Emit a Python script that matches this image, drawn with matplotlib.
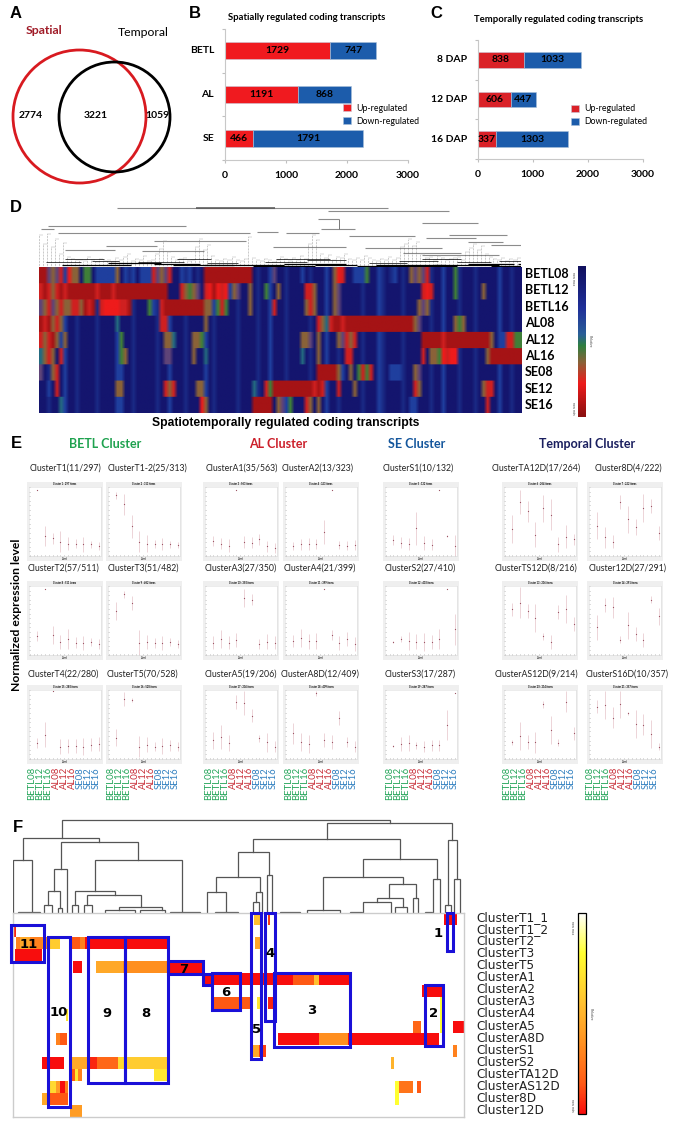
import numpy as np
import matplotlib
matplotlib.use("Agg")
import matplotlib.pyplot as plt
from matplotlib.colors import LinearSegmentedColormap, to_rgb
from matplotlib.patches import Ellipse, Rectangle

W, H = 675, 1123
plt.rcParams['font.family'] = ['Lato', 'DejaVu Sans']

# panel A
venn_labels = ["Spatial", "Temporal"]
venn_counts = [2774, 3221, 1059]

# panel B / C
b_cats = ["BETL", "AL", "SE"]
b_up = [1729, 1191, 466]
b_down = [747, 868, 1791]
c_cats = ["8 DAP", "12 DAP", "16 DAP"]
c_up = [838, 606, 337]
c_down = [1033, 447, 1303]
bar_ticks = [0, 1000, 2000, 3000]

# panel D, colour codes per column, 120 columns
d_rows = ["BETL08", "BETL12", "BETL16", "AL08", "AL12", "AL16", "SE08", "SE12", "SE16"]
d_base = ("nnvnnnbnnvnnnnvnnnnbnnnvnnnnnvnnbnnnvnnnnbnvnnnnnvnnnn"
          "vnnbnnnvnnnnnvnnnbnnvnnnnnvnnnbvnnnnvnnnnnnvnnbnnnvnnnvnnnnnbnnvnnnn")
d_segments = [
    [(0, "ddmomrbRoonggn"), (14, "bbbbbonbvbnbbbrmomrnn"), (35, "bvbnvn"), (41, "d" * 12),
     (58, "m"), (65, "b"), (73, "oRr"), (78, "bbb"), (81, "g"), (87, "vb"), (92, "omom"), (96, "r"), (103, "g")],
    [(0, "rdrordr"), (7, "d" * 25), (14, "r"), (18, "r"), (32, "nn"), (35, "rogom"), (40, "n"), (41, "rRdRrR"),
     (47, "bn"), (48, "om"), (52, "o"), (56, "g"), (59, "o"), (66, "rro"), (73, "om"), (95, "rRr"), (103, "g"), (110, "o")],
    [(0, "mormoro"), (7, "orrodr"), (13, "d"), (15, "rRRRRrrd"), (27, "g"), (28, "bvn"), (30, "rdr"),
     (32, "d" * 9), (41, "oo"), (43, "bgrg"), (47, "n"), (52, "o"), (58, "r"), (66, "oro"), (73, "om"), (94, "omo")],
    [(0, "drd"), (3, "oro"), (19, "t"), (30, "rr"), (41, "o"), (69, "roo"), (71, "t"), (72, "r"),
     (73, "d" * 20), (75, "r"), (93, "om"), (103, "ogo")],
    [(0, "rordo"), (5, "bo"), (20, "g"), (31, "oot"), (38, "oog"), (65, "oom"), (69, "o"), (74, "om"),
     (76, "ror"), (95, "d" * 17), (100, "r"), (112, "o"), (115, "bb"), (116, "rrg"), (119, "g")],
    [(0, "toro"), (4, "nr"), (20, "go"), (31, "mm"), (38, "o"), (41, "t"), (65, "t"), (69, "o"),
     (76, "rr"), (95, "r"), (97, "oog"), (100, "RrRR"), (111, "o"), (112, "d" * 8)],
    [(0, "m"), (3, "o"), (4, "r"), (19, "bb"), (69, "d" * 5), (74, "ob"), (77, "o"), (79, "grgr"),
     (87, "bbb"), (93, "om")],
    [(2, "b"), (4, "r"), (19, "oo"), (31, "ror"), (39, "oo"), (53, "t"), (56, "rg"), (58, "d" * 10),
     (68, "rdr"), (74, "r"), (78, "o"), (93, "ro"), (110, "orr")],
    [(5, "t"), (20, "b"), (40, "Ro"), (53, "d" * 5), (59, "omb"), (62, "g"), (66, "ro"), (69, "o"),
     (92, "bb"), (111, "r")],
]
d_colors = {"n": "#14156e", "v": "#1a2a85", "b": "#1f3f9e", "t": "#246a80", "g": "#3f7f38",
            "m": "#5f4478", "o": "#8a6238", "d": "#a51315", "r": "#cf2020", "R": "#ee1b1b"}

# dendrogram of panel D, x in leaf units, spans (left, right, height)
d_tree_spans = [(205, 910, 177), (410, 615, 177), (755, 1070, 169), (728, 782, 144), (735, 825, 115),
                (1000, 1145, 132), (25, 385, 124), (7, 40, 115), (50, 550, 102), (1070, 1220, 97),
                (570, 625, 104), (645, 730, 102), (810, 980, 92), (1010, 1140, 87), (300, 540, 79),
                (1120, 1210, 74), (175, 310, 62), (70, 200, 52), (1180, 1257, 67), (610, 800, 60),
                (850, 1050, 58), (270, 430, 48), (950, 1100, 42), (1000, 1200, 35)]
d_tree_stems = [(782, 144, 115)]
d_leaf_heights = [95, 70, 98, 60, 85, 40, 72, 30, 25, 20, 22, 18, 30, 20, 16, 25, 18, 22, 15, 28,
                  20, 30, 40, 18, 25, 20, 32, 18, 22, 38, 55, 78, 45, 30, 20, 24, 28, 18, 22, 60,
                  85, 50, 66, 32, 20, 18, 25, 22, 30, 20, 18, 24, 90, 28, 20, 18, 25, 20, 16, 22,
                  30, 24, 18, 26, 20, 32, 24, 70, 96, 80, 40, 28, 35, 22, 30, 26, 38, 24, 20, 28,
                  22, 34, 26, 20, 18, 24, 22, 30, 20, 26, 60, 70, 85, 62, 74, 40, 26, 30, 22, 34,
                  26, 20, 24, 28, 30, 22, 46, 56, 68, 50, 62, 38, 30, 24, 20, 26, 18, 24, 22, 28, 20]
d_scrub = [(60, 240, 6), (180, 320, 11), (300, 420, 8), (350, 510, 5), (430, 640, 7), (560, 720, 4),
           (640, 800, 9), (720, 830, 6), (830, 990, 4), (880, 1060, 7), (980, 1090, 3), (1030, 1200, 6),
           (1120, 1240, 10), (1180, 1340, 4), (1250, 1357, 8), (20, 110, 14), (140, 210, 19), (260, 380, 16),
           (440, 520, 13), (590, 700, 15), (700, 800, 20), (860, 960, 12), (940, 1040, 17), (1090, 1180, 15),
           (1200, 1300, 18), (70, 170, 24), (360, 450, 23), (620, 760, 25), (1000, 1100, 24)]

# panel E
e_groups = ["BETL Cluster", "AL Cluster", "SE Cluster", "Temporal Cluster"]
e_group_colors = ["#1fa24f", "#cc1f2a", "#14569c", "#1a1f5f"]
e_samples = ["BETL08", "BETL12", "BETL16", "AL08", "AL12", "AL16", "SE08", "SE12", "SE16"]
e_sample_colors = ["#25a55a"] * 3 + ["#c8303a"] * 3 + ["#2f7fbf"] * 3
e_titles = [
    ["ClusterT1(11/297)", "ClusterT1-2(25/313)", "ClusterA1(35/563)", "ClusterA2(13/323)", "ClusterS1(10/132)",
     "ClusterTA12D(17/264)", "Cluster8D(4/222)"],
    ["ClusterT2(57/511)", "ClusterT3(51/482)", "ClusterA3(27/350)", "ClusterA4(21/399)", "ClusterS2(27/410)",
     "ClusterTS12D(8/216)", "Cluster12D(27/291)"],
    ["ClusterT4(22/280)", "ClusterT5(70/528)", "ClusterA5(19/206)", "ClusterA8D(12/409)", "ClusterS3(17/287)",
     "ClusterAS12D(9/214)", "ClusterS16D(10/357)"],
]
e_means = [
    [[.96, .29, .26, .21, .18, .18, .17, .17, .15], [.88, .75, .43, .21, .18, .17, .17, .17, .16],
     [.22, .18, .15, .95, .20, .19, .24, .14, .12], [.15, .17, .17, .17, .35, .95, .16, .15, .16],
     [.23, .19, .17, .40, .19, .16, .95, .29, .15], [.39, .78, .65, .31, .69, .60, .17, .28, .24],
     [.44, .27, .21, .78, .53, .42, .70, .72, .33]],
    [[.28, .96, .29, .19, .23, .18, .17, .19, .155], [.64, .88, .75, .18, .19, .17, .17, .19, .16],
     [.18, .23, .18, .22, .83, .80, .155, .19, .18], [.20, .25, .20, .20, .96, .29, .17, .23, .155],
     [.19, .23, .20, .19, .19, .19, .23, .96, .37], [.66, .76, .64, .54, .27, .19, .62, .67, .45],
     [.40, .73, .69, .22, .43, .31, .22, .80, .56]],
    [[.235, .35, .98, .18, .19, .19, .18, .21, .22], [.31, .87, .86, .18, .21, .18, .19, .20, .18],
     [.27, .32, .235, .83, .81, .63, .30, .24, .18], [.37, .25, .22, .95, .27, .25, .60, .25, .18],
     [.19, .22, .23, .20, .18, .20, .20, .49, .96], [.24, .33, .25, .24, .79, .42, .235, .83, .37],
     [.76, .78, .60, .79, .66, .51, .50, .36, .18]],
]
e_spreads = [
    [[0, .14, .08, .15, .09, .06, .11, .05, .06], [.05, .15, .17, .15, .12, .06, .09, .05, .05],
     [.07, .08, .09, 0, .09, .08, .08, .08, .07], [.06, .08, .09, .07, .17, 0, .06, .07, .07],
     [.07, .08, .09, .24, .10, .08, 0, .02, .15], [.20, .17, .15, .18, .20, .22, .11, .17, .08],
     [.20, .15, .10, .10, .20, .12, .20, .10, .10]],
    [[.07, 0, .13, .10, .14, .08, .10, .06, .07], [.13, .05, .10, .18, .10, .07, .10, .06, .06],
     [.10, .13, .10, .10, .13, .08, .07, .11, .10], [.09, .13, .11, .12, 0, .07, .10, .10, .10],
     [.02, .04, .13, .11, .13, .10, .14, 0, .22], [.10, .22, .10, .20, .05, .10, .10, .20, .10],
     [.18, .10, .15, .05, .20, .10, .10, .05, .12]],
    [[.07, .18, 0, .11, .10, .10, .12, .10, .10], [.12, .10, .03, .15, .11, .06, .12, .08, .06],
     [.12, .18, .12, .10, .17, .10, .05, .14, .08], [.15, .13, .13, .03, .10, .10, .10, .07, .08],
     [.02, .10, .12, .05, .08, .08, .08, .22, 0], [.03, .20, .10, .15, .05, .20, .05, .15, .10],
     [.10, .20, .15, .20, .02, .20, .15, .20, .05]],
]
e_col_x = [27, 106, 203, 283, 383, 502, 587]
e_row_y = [482, 581, 685]
e_title_x = [[66, 147, 242, 318, 418, 536, 628], [64, 143, 241, 320, 420, 536, 628], [63, 142, 241, 320, 420, 536, 627]]
e_title_y = [468, 568, 674]

# panel F
f_rows = ["ClusterT1_1", "ClusterT1_2", "ClusterT2", "ClusterT3", "ClusterT5", "ClusterA1", "ClusterA2",
          "ClusterA3", "ClusterA4", "ClusterA5", "ClusterA8D", "ClusterS1", "ClusterS2", "ClusterTA12D",
          "ClusterAS12D", "Cluster8D", "Cluster12D"]
# (row, from, to, value), positions share the leaf scale of the tree
f_runs = [
    (0, 253, 260, .45), (0, 267, 269, .9), (0, 443, 456, 1),
    (1, 14, 16, .95),
    (2, 16, 20, .7), (2, 20, 30, .55), (2, 30, 42, .7), (2, 42, 50, .65), (2, 50, 60, .4), (2, 72, 80, .85),
    (2, 80, 85, .7), (2, 85, 168, 1), (2, 254, 260, .55),
    (3, 15, 42, 1),
    (4, 73, 82, 1), (4, 96, 123, .55), (4, 123, 168, .65), (4, 168, 203, 1),
    (5, 203, 292, 1), (5, 292, 313, .85), (5, 313, 318, .45), (5, 318, 348, 1),
    (6, 421, 442, 1),
    (7, 213, 250, .85), (7, 256, 259, .3), (7, 267, 273, .95), (7, 439, 441, .2),
    (8, 66, 68, .3), (8, 439, 441, .2),
    (9, 412, 420, .8), (9, 439, 441, .2), (9, 452, 464, 1),
    (10, 56, 60, .7), (10, 60, 67, .85), (10, 277, 318, 1), (10, 318, 347, .65), (10, 347, 438, 1),
    (11, 252, 258, .55), (11, 258, 265, .9), (11, 452, 456, .7),
    (12, 42, 64, 1), (12, 72, 90, .55), (12, 90, 97, .95), (12, 97, 118, .8), (12, 118, 128, .35),
    (12, 128, 168, .4), (12, 390, 393, .5),
    (13, 72, 75, .85), (13, 75, 78, .3), (13, 78, 82, .7), (13, 154, 168, .3),
    (14, 50, 56, .35), (14, 56, 60, .6), (14, 60, 65, 1), (14, 65, 68, .7), (14, 394, 398, .2),
    (14, 398, 412, .75), (14, 416, 420, .85),
    (15, 42, 48, .55), (15, 48, 68, .85), (15, 394, 398, .2),
    (16, 70, 82, .6),
]
# (left, right, merge height, left child height, right child height)
f_merges = [
    (62, 390, 93, 75, 90), (23, 99, 75, 53, 71), (13, 32, 53, 0, 0), (61, 138, 71, 44, 53), (54, 67, 44, 22, 0),
    (48, 60, 22, 8, 5), (44, 52, 8, 0, 0), (58, 62, 5, 0, 0), (95, 182, 53, 22, 0), (75, 115, 22, 8, 18),
    (72, 78, 8, 0, 0), (87, 141, 18, 8, 6), (84, 92, 8, 0, 0), (119, 162, 6, 3, 3), (105, 135, 3, 0, 0),
    (140, 165, 3, 0, 0), (327, 452, 90, 74, 73), (253, 400, 74, 61, 54), (238, 269, 61, 36, 38),
    (216, 260, 36, 21, 21), (207, 226, 21, 0, 0), (256, 262, 21, 11, 0), (253, 259, 11, 0, 0), (267, 272, 38, 0, 0),
    (363, 437, 54, 36, 34), (323, 403, 36, 3, 29), (307, 340, 3, 0, 0), (389, 416, 29, 15, 15), (377, 403, 15, 11, 6),
    (363, 391, 11, 0, 0), (395, 407, 6, 0, 0), (413, 418, 15, 0, 0), (433, 440, 34, 0, 0), (448, 457, 73, 8, 34),
    (445, 451, 8, 0, 0), (454, 460, 34, 0, 0), (18, 40, 1, 0, 0), (170, 200, 1, 0, 0), (215, 238, 1, 0, 0),
    (280, 300, 1, 0, 0), (350, 362, 1, 0, 0), (425, 432, 1, 0, 0),
]
# numbered blue boxes: label, left, top, right, bottom (leaf scale / row units)
f_boxes = [("11", 11, 1, 44, 4.1), ("10", 48, 2, 70, 16.2), ("9", 88, 2, 125, 14.2), ("8", 125, 2, 168, 14.2),
           ("7", 168, 4, 203, 5.1), ("", 203, 5.1, 212, 6), ("6", 212, 5, 240, 8.1), ("5", 251, 0, 261, 12.2),
           ("4", 265, 0, 275, 9), ("3", 274, 5, 350, 11.2), ("2", 425, 6, 443, 11.1), ("1", 447, 0, 453, 3.2)]
f_box_labels = {"11": (29, 2.6), "10": (59, 8.3), "9": (107, 8.4), "8": (146, 8.4), "7": (184, 4.7),
                "6": (226, 6.6), "5": (257, 9.7), "4": (270, 3.4), "3": (312, 8.1), "2": (434, 8.4), "1": (438, 1.7)}

fig = plt.figure(figsize=(W / 100, H / 100), dpi=100, facecolor="white")


def px_ax(x0, y0, x1, y1, **kw):
    return fig.add_axes([x0 / W, 1 - y1 / H, (x1 - x0) / W, (y1 - y0) / H], **kw)


over = fig.add_axes([0, 0, 1, 1], zorder=10)
over.set_xlim(0, W)
over.set_ylim(H, 0)
over.axis("off")
over.patch.set_alpha(0)

for letter, x, y in [("A", 16, 14), ("B", 195, 14), ("C", 436, 14), ("D", 16, 207), ("E", 16, 443), ("F", 18, 827)]:
    over.text(x, y, letter, fontsize=12, fontweight="bold", family="Liberation Sans", ha="center", va="center")

# A
over.add_patch(Ellipse((79.5, 116.5), 133, 133, fill=False, ec="#d81a20", lw=2))
over.add_patch(Ellipse((114.5, 117), 111, 110, fill=False, ec="black", lw=2))
over.text(44, 31, venn_labels[0], color="#a01c28", fontsize=8.8, fontweight="bold", ha="center", va="center")
over.text(143, 32, venn_labels[1], color="black", fontsize=8.8, ha="center", va="center")
for n, x in zip(venn_counts, [31, 96, 157]):
    over.text(x, 115, str(n), fontsize=7.5, fontweight="bold", ha="center", va="center")


# B, C
def stacked(box, cats, up, down, red, legend_at):
    ax = px_ax(*box)
    y = np.arange(len(cats))
    b1 = ax.barh(y, up, height=0.39, color=red, label="Up-regulated", edgecolor="#c8c8d8", linewidth=0.4)
    b2 = ax.barh(y, down, left=up, height=0.39, color="#1c5cab", label="Down-regulated",
                 edgecolor="#a8c0d8", linewidth=0.4)
    ax.bar_label(b1, label_type="center", fontsize=7.5, fontweight="bold")
    ax.bar_label(b2, label_type="center", fontsize=7.5, fontweight="bold")
    ax.set_xlim(0, 3000)
    ax.set_ylim(2.5, -0.5)
    ax.set_xticks(bar_ticks)
    ax.set_yticks(np.arange(len(cats) + 1) - 0.5, minor=False)
    ax.set_yticklabels([])
    ax.tick_params(length=2, color="#c0c0c0", labelsize=7.5, pad=6)
    for lab in ax.get_xticklabels():
        lab.set_fontweight("bold")
    for i, c in enumerate(cats):
        ax.text(-0.06, i, c, transform=ax.get_yaxis_transform(), ha="right", va="center",
                fontsize=7.5, fontweight="bold")
    for s in ["top", "right"]:
        ax.spines[s].set_visible(False)
    for s in ["left", "bottom"]:
        ax.spines[s].set_color("#c8c8c8")
    ax.legend(loc="upper left", bbox_to_anchor=legend_at, frameon=False, fontsize=6.3, borderpad=0, borderaxespad=0,
              handlelength=0.9, handleheight=0.9, handletextpad=0.6, labelspacing=0.45)
    return ax


stacked((225, 29, 408, 160), b_cats, b_up, b_down, "#f01a1f", (0.645, 0.43))
stacked((477.5, 40, 643, 159), c_cats, c_up, c_down, "#da2128", (0.565, 0.46))
over.text(307, 18, "Spatially regulated coding transcripts", fontsize=6.8, fontweight="bold", ha="center", va="center")
over.text(559, 20, "Temporally regulated coding transcripts", fontsize=6.8, fontweight="bold", ha="center", va="center")

# D
d_rgb = np.zeros((len(d_rows), 120, 3))
for r, segs in enumerate(d_segments):
    line = list(d_base[:120])
    for start, s in segs:
        line[start:start + len(s)] = list(s)
    d_rgb[r] = [to_rgb(d_colors[c]) for c in line[:120]]
ax = px_ax(38.5, 267, 521, 413)
# rows repeated so the smoothing only softens the columns
ax.imshow(np.repeat(d_rgb, 16, axis=0), aspect="auto", interpolation="bilinear")
ax.axis("off")
for i, name in enumerate(d_rows):
    over.text(525, 274 + i * 16.4, name, fontsize=9, fontweight="bold", ha="left", va="center")
over.text(286, 423, "Spatiotemporally regulated coding transcripts", fontsize=8.7, fontweight="bold",
          family="Liberation Sans", ha="center", va="center")

tree = px_ax(38.5, 198, 521, 267)
tree.set_xlim(0, 1257)
tree.set_ylim(0, 207)
tree.axis("off")
for x0, x1, h in d_tree_spans:
    tree.hlines(h, x0, x1, color="#8c8c8c", lw=0.8)
tree.hlines(177, 410, 615, color="#555555", lw=1.1)
for x, h0, h1 in d_tree_stems:
    tree.vlines(x, h1, h0, color="#777777", lw=0.7)
xs = np.arange(len(d_leaf_heights)) * 10.475
tree.vlines(xs, 0, d_leaf_heights, color="#555555", lw=0.4, linestyles=":")
tree.hlines(d_leaf_heights[:-1], xs[:-1], xs[1:], color="#a8a8a8", lw=0.3)
for x0, x1, h in d_scrub:
    tree.hlines(h, x0, x1, color="black", lw=0.9 if h < 12 else 0.5)

d_bar_cmap = LinearSegmentedColormap.from_list(
    "dbar", [(0, "#8a1010"), (.22, "#ee1b1b"), (.36, "#8a6238"), (.47, "#2f8040"), (.55, "#2a5f98"),
             (.72, "#20309a"), (1, "#10105e")])
cax = px_ax(578, 266, 586, 417)
cax.imshow(np.linspace(1, 0, 128)[:, None], aspect="auto", cmap=d_bar_cmap)
cax.axis("off")
over.text(590, 341, "Relative", fontsize=2.5, rotation=270, ha="center", va="center", color="#444444")
over.text(573, 279, "row max", fontsize=2.5, rotation=270, ha="center", va="center", color="#444444")
over.text(573, 408, "row min", fontsize=2.5, rotation=270, ha="center", va="center", color="#444444")

# E
for name, color, x in zip(e_groups, e_group_colors, [105, 278, 417, 587]):
    over.text(x, 444, name, color=color, fontsize=9, fontweight="bold", ha="center", va="center")
over.text(17, 615, "Normalized expression level", rotation=90, fontsize=8.7, fontweight="bold",
          ha="center", va="center")
for r, y in enumerate(e_row_y):
    for c, x in enumerate(e_col_x):
        title = e_titles[r][c]
        over.text(e_title_x[r][c], e_title_y[r], title, fontsize=6.3, ha="center", va="center", color="#222222")
        outer = px_ax(x, y, x + 76, y + 79, facecolor="#efefef")
        outer.set_xticks([])
        outer.set_yticks([])
        for s in outer.spines.values():
            s.set_visible(False)
        outer.text(0.5, 0.975, "Cluster %d : %s items" % (r * 7 + c + 1, title.split("/")[1][:-1]),
                   transform=outer.transAxes, fontsize=1.8, fontweight="bold", ha="center", va="center")
        outer.text(0.5, 0.025, "Cond", transform=outer.transAxes, fontsize=1.8, ha="center", va="center")
        inner = px_ax(x + 2, y + 5, x + 74, y + 74, facecolor="white")
        inner.errorbar(range(9), e_means[r][c], yerr=e_spreads[r][c], fmt="o", ms=0.9, color="#9a5060",
                       ecolor="#eacdd2", elinewidth=0.6, mew=0)
        inner.set_xlim(-1.1, 8.3)
        inner.set_ylim(0, 1)
        inner.set_xticks(np.arange(-1, 8.5, 0.5))
        inner.set_yticks(np.arange(0, 1.01, 1 / 15))
        inner.set_xticklabels([])
        inner.set_yticklabels([])
        inner.tick_params(length=0.9, width=0.5, color="#999999", direction="in")
        for s in inner.spines.values():
            s.set_color("#dddddd")
            s.set_linewidth(0.4)
        if r == 2:
            off = [5, 5, 6, 6, 7, 5, 3][c]
            for i, (lab, col) in enumerate(zip(e_samples, e_sample_colors)):
                over.text(x + off + i * 8, 767, lab, color=col, rotation=90, fontsize=6.8, ha="center", va="top")

# F
f_tree_ax = px_ax(13, 815, 464, 913)
f_tree_ax.set_xlim(13, 464)
f_tree_ax.set_ylim(0, 98)
f_tree_ax.axis("off")
for x0, x1, h, h0, h1 in f_merges:
    f_tree_ax.plot([x0, x0, x1, x1], [h0, h, h, h1], color="#555555", lw=0.9, solid_joinstyle="miter")

f_cmap = LinearSegmentedColormap.from_list(
    "fheat", [(0, "#ffffff"), (.2, "#ffff30"), (.45, "#ffc030"), (.65, "#ff9020"), (.85, "#ff5a15"), (1, "#f80d0d")])
f_mat = np.zeros((len(f_rows), 451))
for r, a, b, v in f_runs:
    f_mat[r, a - 13:b - 13] = v
hm = px_ax(13, 913, 464, 1117)
im = hm.imshow(f_mat, aspect="auto", cmap=f_cmap, vmin=0, vmax=1, extent=(13, 464, len(f_rows), 0),
               interpolation="nearest")
hm.set_xticks([])
hm.set_yticks([])
for s in hm.spines.values():
    s.set_color("#cccccc")
    s.set_linewidth(1)
for name, x0, y0, x1, y1 in f_boxes:
    hm.add_patch(Rectangle((x0, y0), x1 - x0, y1 - y0, fill=False, ec="#1a10d8", lw=2.2, clip_on=False, zorder=5))
    if name:
        lx, ly = f_box_labels[name]
        hm.text(lx, ly, name, fontsize=9.5, fontweight="bold", family="DejaVu Sans", ha="center", va="center", zorder=6)
for i, name in enumerate(f_rows):
    over.text(476, 917.5 + i * 12.06, name, fontsize=8.7, family="DejaVu Sans", color="#222222", ha="left", va="center")

f_cax = px_ax(578, 913, 586, 1114)
cb = fig.colorbar(im, cax=f_cax, ticks=[])
cb.ax.invert_yaxis()
cb.outline.set_linewidth(0.9)
over.text(572, 928, "row max", fontsize=2.5, rotation=270, ha="center", va="center", color="#444444")
over.text(572, 1105, "row min", fontsize=2.5, rotation=270, ha="center", va="center", color="#444444")
over.text(591, 1014, "Relative", fontsize=2.5, rotation=270, ha="center", va="center", color="#444444")

plt.savefig("out.png", dpi=100)
